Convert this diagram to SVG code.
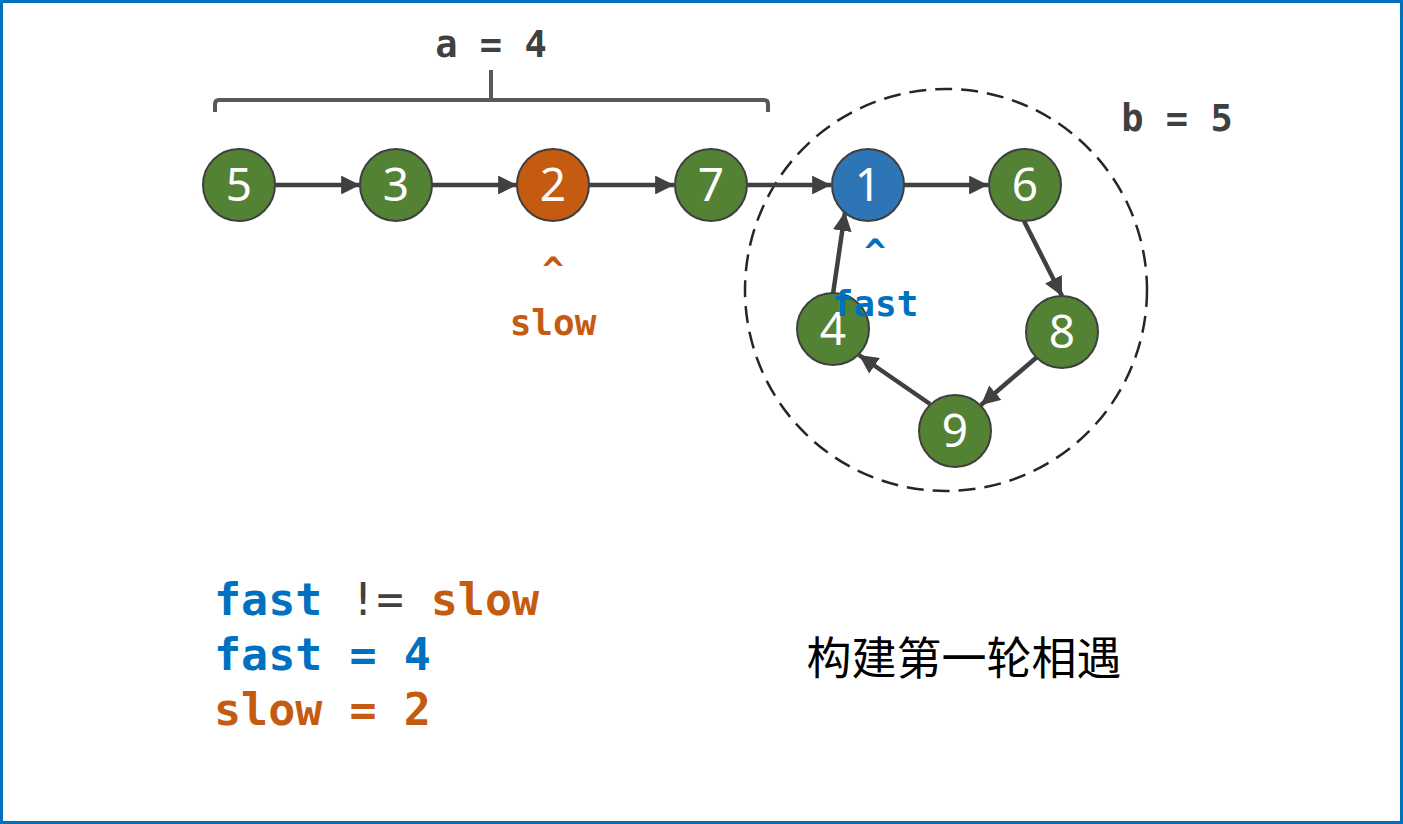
<svg xmlns="http://www.w3.org/2000/svg" width="1403" height="824" viewBox="0 0 1403 824">
<style>
.node{stroke:#3F3F3F;stroke-width:2}
.g{fill:#548235}
.o{fill:#C55A11}
.b{fill:#2E75B6}
.num{font-family:"Noto Sans","Open Sans",sans-serif;font-size:46px;fill:#fff;text-anchor:middle}
.conn line{stroke:#404040;stroke-width:4.5;marker-end:url(#ah)}
.mono{font-family:"DejaVu Sans Mono","Liberation Mono",monospace;font-weight:bold}
.lbl{font-size:37px;fill:#404040}
.blue{fill:#0070C0}
.org{fill:#C55A11}
</style>
<defs>
<marker id="ah" viewBox="0 0 10 10" refX="10" refY="5" markerWidth="4.2" markerHeight="4.2" orient="auto" markerUnits="strokeWidth">
<path d="M0,0 L10,5 L0,10 z" fill="#404040"/>
</marker>
</defs>
<rect x="1.5" y="1.5" width="1400" height="821" fill="#fff" stroke="#0070C0" stroke-width="3"/>
<g id="brace" fill="none" stroke="#595959" stroke-width="4">
<path d="M215,112 V104 Q215,100 219,100 H764 Q768,100 768,104 V112"/>
<path d="M491,100 V70"/>
</g>
<text class="mono lbl" x="491" y="57" text-anchor="middle">a = 4</text>
<text class="mono lbl" x="1177" y="131" text-anchor="middle">b = 5</text>
<circle id="cycle" cx="946" cy="290" r="201" fill="none" stroke="#262626" stroke-width="2.5" stroke-dasharray="17,9"/>
<g id="connectors" class="conn">
<line x1="275" y1="185" x2="360" y2="185"/>
<line x1="432" y1="185" x2="517" y2="185"/>
<line x1="589" y1="185" x2="674" y2="185"/>
<line x1="747" y1="185" x2="831" y2="185"/>
<line x1="904" y1="185" x2="988" y2="185"/>
<line x1="1024" y1="221" x2="1062" y2="296"/>
<line x1="1037" y1="357" x2="981" y2="405"/>
<line x1="930" y1="404" x2="859" y2="355"/>
<line x1="833" y1="294" x2="845" y2="212"/>
</g>
<g id="n5"><circle class="node g" cx="239" cy="185" r="36"/><text class="num" x="239" y="201">5</text></g>
<g id="n3"><circle class="node g" cx="396" cy="185" r="36"/><text class="num" x="396" y="201">3</text></g>
<g id="n2"><circle class="node o" cx="553" cy="185" r="36"/><text class="num" x="553" y="201">2</text></g>
<g id="n7"><circle class="node g" cx="711" cy="185" r="36"/><text class="num" x="711" y="201">7</text></g>
<g id="n1"><circle class="node b" cx="868" cy="185" r="36"/><text class="num" x="868" y="201">1</text></g>
<g id="n6"><circle class="node g" cx="1025" cy="185" r="36"/><text class="num" x="1025" y="201">6</text></g>
<g id="n8"><circle class="node g" cx="1062" cy="332" r="36"/><text class="num" x="1062" y="348">8</text></g>
<g id="n9"><circle class="node g" cx="955" cy="431" r="36"/><text class="num" x="955" y="447">9</text></g>
<g id="n4"><circle class="node g" cx="833" cy="329" r="36"/><text class="num" x="833" y="345">4</text></g>
<text class="mono org" x="553" y="282" font-size="36" text-anchor="middle">^</text>
<text class="mono org" x="553" y="335" font-size="36" text-anchor="middle">slow</text>
<text class="mono blue" x="875" y="264" font-size="36" text-anchor="middle">^</text>
<text class="mono blue" x="875" y="316" font-size="36" text-anchor="middle">fast</text>
<text class="mono" x="214" y="615" font-size="45"><tspan class="blue">fast</tspan><tspan fill="#404040" font-weight="normal"> != </tspan><tspan class="org">slow</tspan></text>
<text class="mono blue" x="214" y="670" font-size="45">fast = 4</text>
<text class="mono org" x="214" y="725" font-size="45">slow = 2</text>
<text x="964" y="675" font-family="'Noto Sans CJK SC',sans-serif" font-size="45" text-anchor="middle" fill="#000">构建第一轮相遇</text>
</svg>
